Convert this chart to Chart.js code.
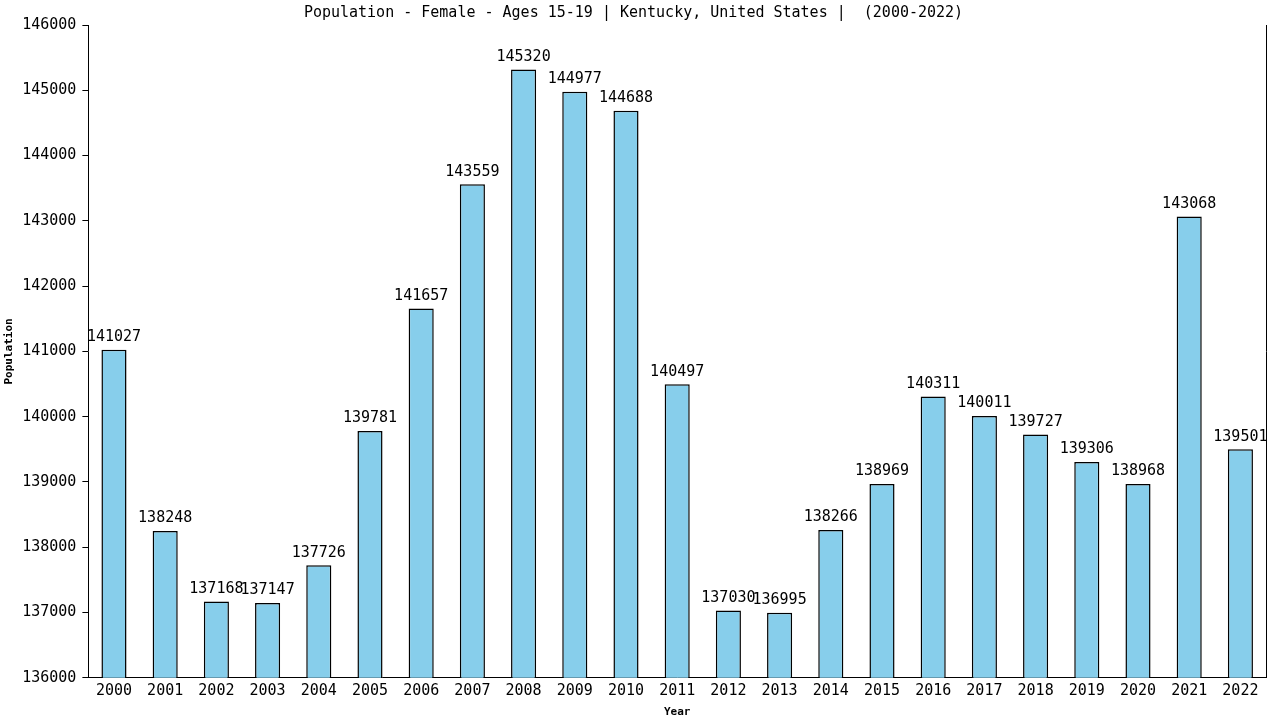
<!DOCTYPE html>
<html lang="en">
<head>
    <meta charset="UTF-8">
    <title>Population - Female - Ages 15-19 | Kentucky</title>
    <script src="https://cdn.jsdelivr.net/npm/chart.js@4.4.1/dist/chart.umd.min.js"></script>
    <style>
        html, body { margin: 0; padding: 0; background: #fff; }
        #wrap { width: 1280px; height: 720px; }
    </style>
</head>
<body>
    <div id="wrap"><canvas id="popChart" width="1280" height="720"></canvas></div>

    <script>
        const years = ['2000', '2001', '2002', '2003', '2004', '2005', '2006', '2007', '2008', '2009', '2010', '2011',
            '2012', '2013', '2014', '2015', '2016', '2017', '2018', '2019', '2020', '2021', '2022'];
        const population = [141027, 138248, 137168, 137147, 137726, 139781, 141657, 143559, 145320, 144977, 144688, 140497,
            137030, 136995, 138266, 138969, 140311, 140011, 139727, 139306, 138968, 143068, 139501];
        const yMin = 136000;
        const yMax = 146000;
        const yStep = 1000;

        const monoFont = "'DejaVu Sans Mono', monospace";

        // value labels above each bar + right frame line
        const barLabels = {
            id: 'barLabels',
            afterDatasetsDraw(chart) {
                const ctx = chart.ctx;
                const meta = chart.getDatasetMeta(0);
                ctx.save();
                ctx.fillStyle = '#000';
                ctx.font = '15px ' + monoFont;
                ctx.textAlign = 'center';
                ctx.textBaseline = 'bottom';
                meta.data.forEach((bar, i) => {
                    ctx.fillText(String(population[i]), bar.x, bar.y - 5);
                });
                const area = chart.chartArea;
                ctx.strokeStyle = '#000';
                ctx.lineWidth = 1;
                ctx.beginPath();
                ctx.moveTo(Math.round(area.right) + 0.5, area.top);
                ctx.lineTo(Math.round(area.right) + 0.5, area.bottom);
                ctx.stroke();
                ctx.restore();
            }
        };

        new Chart(document.getElementById('popChart').getContext('2d'), {
            type: 'bar',
            data: {
                labels: years,
                datasets: [{
                    label: 'Population',
                    data: population,
                    backgroundColor: '#87CEEB',
                    borderColor: '#000',
                    borderWidth: 1.5,
                    borderSkipped: 'bottom',
                    barPercentage: 0.98,
                    categoryPercentage: 0.5
                }]
            },
            options: {
                responsive: false,
                animation: false,
                devicePixelRatio: 1,
                layout: { padding: { left: 1, right: 14, top: 0, bottom: 1 } },
                plugins: {
                    legend: { display: false },
                    tooltip: { enabled: false },
                    title: {
                        display: true,
                        text: 'Population - Female - Ages 15-19 | Kentucky, United States |  (2000-2022)',
                        color: '#000',
                        font: { family: monoFont, size: 15, weight: 'normal' },
                        padding: { top: 4, bottom: 3 }
                    }
                },
                scales: {
                    x: {
                        offset: true,
                        grid: { display: false, drawTicks: false },
                        border: { color: '#000' },
                        ticks: {
                            color: '#000',
                            font: { family: monoFont, size: 15 },
                            padding: 4,
                            maxRotation: 0
                        },
                        title: {
                            display: true,
                            text: 'Year',
                            color: '#000',
                            font: { family: monoFont, size: 11, weight: 'bold' },
                            padding: { top: 2, bottom: 0 }
                        }
                    },
                    y: {
                        min: yMin,
                        max: yMax,
                        grid: {
                            drawOnChartArea: false,
                            drawTicks: true,
                            tickLength: 6,
                            color: '#000'
                        },
                        border: { color: '#000' },
                        ticks: {
                            stepSize: yStep,
                            color: '#000',
                            font: { family: monoFont, size: 15 },
                            padding: 6,
                            callback: (v) => String(v)
                        },
                        title: {
                            display: true,
                            text: 'Population',
                            color: '#000',
                            font: { family: monoFont, size: 11, weight: 'bold' },
                            padding: { top: 2, bottom: 0 }
                        }
                    }
                }
            },
            plugins: [barLabels]
        });
    </script>
</body>
</html>
